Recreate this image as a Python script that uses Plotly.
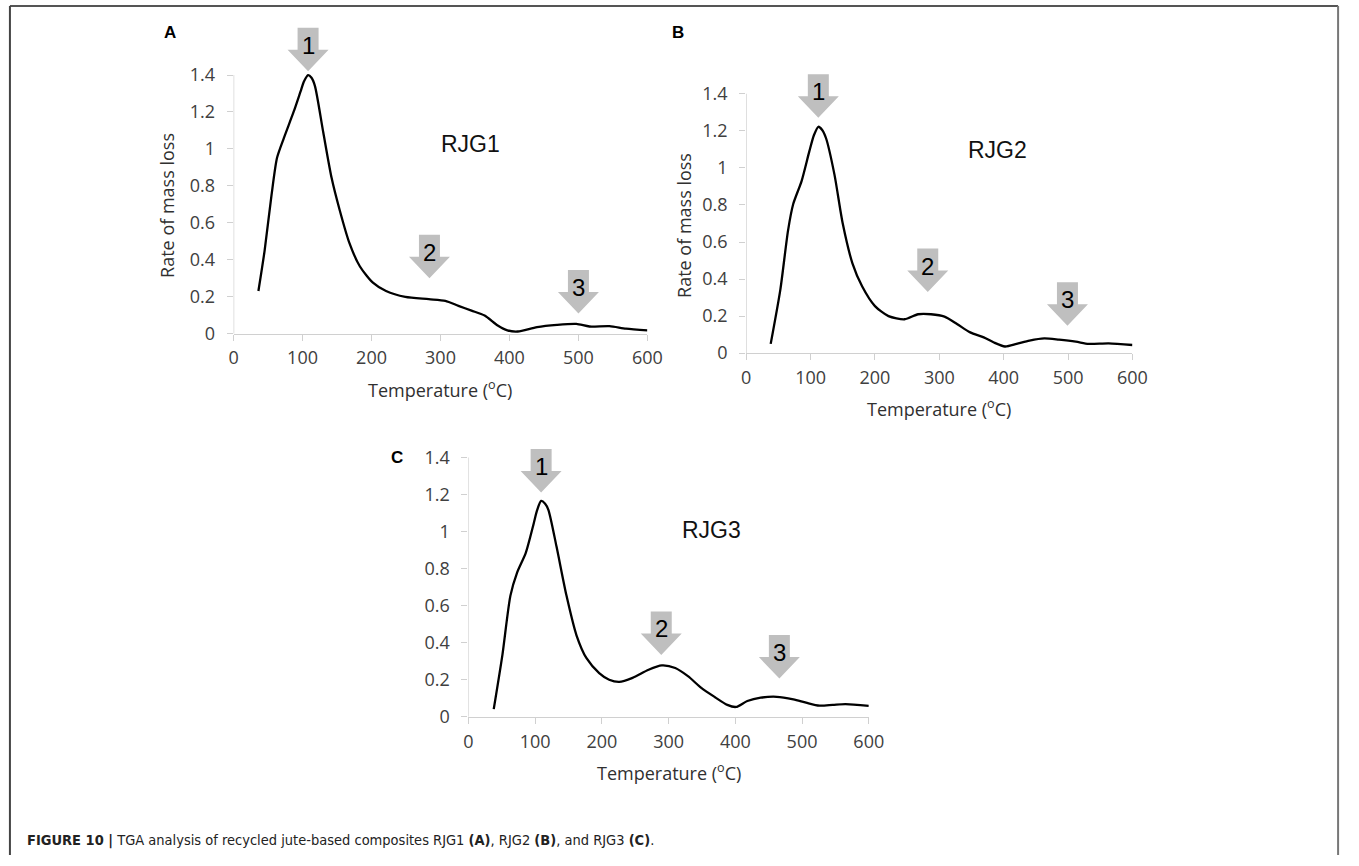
import plotly.graph_objects as go

# ---------------- data ----------------
temp_a = [36, 45, 55, 63, 73, 87, 97, 102, 108, 113, 118, 130, 142, 154, 168, 183, 202, 221, 249,
          283, 307, 326, 345, 364, 383, 397, 412, 440, 469, 497, 516, 545, 569, 600]
rate_a = [0.231, 0.45, 0.75, 0.952, 1.06, 1.20, 1.31, 1.365, 1.40, 1.385, 1.34, 1.09, 0.845, 0.667,
          0.49, 0.365, 0.276, 0.231, 0.199, 0.187, 0.178, 0.151, 0.125, 0.098, 0.044, 0.018, 0.012,
          0.036, 0.048, 0.053, 0.039, 0.041, 0.027, 0.018]

temp_b = [38, 53, 65, 73, 86, 98, 105, 112, 118, 124, 137, 150, 165, 180, 200, 221, 246, 267, 287,
          308, 328, 348, 369, 384, 402, 420, 440, 463, 486, 512, 532, 563, 600]
rate_b = [0.05, 0.343, 0.663, 0.805, 0.929, 1.089, 1.175, 1.222, 1.205, 1.16, 0.965, 0.698, 0.485,
          0.361, 0.254, 0.20, 0.183, 0.21, 0.21, 0.197, 0.156, 0.112, 0.085, 0.059, 0.036, 0.05,
          0.068, 0.08, 0.073, 0.062, 0.05, 0.053, 0.044]

temp_c = [38, 51, 63, 73, 86, 98, 103, 109, 115, 120, 132, 147, 162, 177, 196, 211, 226, 246, 270,
          290, 310, 329, 349, 369, 388, 401, 418, 438, 462, 487, 506, 526, 546, 565, 600]
rate_c = [0.041, 0.334, 0.654, 0.778, 0.885, 1.045, 1.115, 1.165, 1.15, 1.116, 0.92, 0.654, 0.44,
          0.316, 0.236, 0.20, 0.188, 0.21, 0.254, 0.277, 0.263, 0.219, 0.156, 0.107, 0.064, 0.053,
          0.085, 0.103, 0.108, 0.094, 0.076, 0.06, 0.064, 0.068, 0.059]

# arrow tips (temperature, rate) for peaks 1, 2, 3
arrow_labels = ["1", "2", "3"]
arrows_a_x = [108, 284, 500]
arrows_a_y = [1.42, 0.30, 0.11]
arrows_b_x = [112, 282, 499]
arrows_b_y = [1.27, 0.33, 0.148]
arrows_c_x = [109, 289, 466]
arrows_c_y = [1.21, 0.334, 0.206]

sample_names = ["RJG1", "RJG2", "RJG3"]
sample_label_x = [344, 391, 364]
sample_label_y = [1.026, 1.096, 1.007]

panel_letters = ["A", "B", "C"]

x_ticks = [0, 100, 200, 300, 400, 500, 600]
x_ticktext = ["0", "100", "200", "300", "400", "500", "600"]
y_ticks = [0, 0.2, 0.4, 0.6, 0.8, 1.0, 1.2, 1.4]
y_ticktext = ["0", "0.2", "0.4", "0.6", "0.8", "1", "1.2", "1.4"]
x_max, y_max = 600, 1.4

x_title = "Temperature (<sup>o</sup>C)"
y_title = "Rate of mass loss"
caption = ("<b>FIGURE 10 |</b> TGA analysis of recycled jute-based composites RJG1 <b>(A)</b>, "
           "RJG2 <b>(B)</b>, and RJG3 <b>(C)</b>.")

# ---------------- layout geometry ----------------
W, H = 1359, 866


def px(x):
    return x / W


def py(y):
    return 1 - y / H


# plot-area pixel boxes (left, right, top-of-1.4, bottom)
boxes = [(232, 652, 76, 338), (752.3, 1144.3, 95, 357.7), (470.3, 876.7, 463.3, 726)]
Y_HEAD = 1.25  # extra head-room (fraction of y_max) so the arrows are not clipped

TICK_FONT = dict(family="Open Sans, Arial", size=18, color="#404040")
TITLE_FONT = dict(family="Open Sans, Arial", size=18, color="#303030")
AXIS_COL = "#d0d0d0"

fig = go.Figure()

series = [(temp_a, rate_a), (temp_b, rate_b), (temp_c, rate_c)]
arrows = [(arrows_a_x, arrows_a_y), (arrows_b_x, arrows_b_y), (arrows_c_x, arrows_c_y)]

shapes = []
annotations = []

for i, ((tx, ry), (ax_, ay_), box) in enumerate(zip(series, arrows, boxes)):
    sfx = "" if i == 0 else str(i + 1)
    xref, yref = "x" + sfx, "y" + sfx
    fig.add_trace(go.Scatter(x=tx, y=ry, mode="lines", xaxis=xref, yaxis=yref,
                             line=dict(color="black", width=2.3, shape="spline", smoothing=0.7),
                             hoverinfo="skip", showlegend=False))
    l, r, t, b = box
    top_ext = b - (b - t) * Y_HEAD
    common = dict(showgrid=False, zeroline=False, ticks="outside", tickcolor=AXIS_COL, ticklen=6,
                  tickwidth=1.3, tickfont=TICK_FONT, fixedrange=True)
    fig.update_layout(**{
        "xaxis" + sfx: dict(domain=[px(l), px(r)], range=[0, x_max], anchor=yref,
                            showline=True, linecolor=AXIS_COL, linewidth=1.3,
                            tickmode="array", tickvals=x_ticks, ticktext=x_ticktext,
                            ticklabelstandoff=2, **common),
        "yaxis" + sfx: dict(domain=[py(b), py(top_ext)], range=[0, y_max * Y_HEAD], anchor=xref,
                            showline=False,
                            tickmode="array", tickvals=y_ticks, ticktext=y_ticktext,
                            ticklabelstandoff=8, **common),
    })
    # y axis line only from 0 to 1.4
    shapes.append(dict(type="line", xref=xref, yref=yref, x0=0, x1=0, y0=0, y1=y_max,
                       line=dict(color=AXIS_COL, width=1.3), layer="below"))
    # block arrows
    for xv, yv, lab in zip(ax_, ay_, arrow_labels):
        shapes.append(dict(type="path", xref=xref, yref=yref, xsizemode="pixel", ysizemode="pixel",
                           xanchor=xv, yanchor=yv,
                           path="M0,0 L-20.5,21.5 L-10.5,21.5 L-10.5,43.5 L10.5,43.5 L10.5,21.5 L20.5,21.5 Z",
                           fillcolor="#bfbfbf", line=dict(width=0), layer="above"))
        annotations.append(dict(x=xv, y=yv, xref=xref, yref=yref, text=lab, showarrow=False,
                                yshift=26, xanchor="center", yanchor="middle",
                                font=dict(family="Arial, Liberation Sans", size=24, color="black")))
    # sample name
    annotations.append(dict(x=sample_label_x[i], y=sample_label_y[i], xref=xref, yref=yref,
                            text=sample_names[i], showarrow=False, xanchor="center", yanchor="middle",
                            font=dict(family="Arial, Liberation Sans", size=23, color="#111")))
    # x title
    annotations.append(dict(x=px((l + r) / 2), y=py(b + 56), xref="paper", yref="paper",
                            text=x_title, showarrow=False, xanchor="center", yanchor="middle",
                            font=TITLE_FONT))

# y titles (panels A and B only)
annotations.append(dict(x=px(165), y=py(208), xref="paper", yref="paper", text=y_title,
                        textangle=-90, showarrow=False, xanchor="center", yanchor="middle",
                        font=TITLE_FONT))
annotations.append(dict(x=px(689), y=py(228), xref="paper", yref="paper", text=y_title,
                        textangle=-90, showarrow=False, xanchor="center", yanchor="middle",
                        font=TITLE_FONT))

# panel letters
for lab, (lx, ly) in zip(panel_letters, [(167, 33), (683, 33), (398, 463)]):
    annotations.append(dict(x=px(lx), y=py(ly), xref="paper", yref="paper", text="<b>%s</b>" % lab,
                            showarrow=False, xanchor="center", yanchor="middle",
                            font=dict(family="Arial, Liberation Sans", size=17, color="black")))

# caption
annotations.append(dict(x=px(20), y=py(851), xref="paper", yref="paper", text=caption,
                        showarrow=False, xanchor="left", yanchor="middle",
                        font=dict(family="Liberation Sans Narrow, Arial Narrow, DejaVu Sans Condensed, Liberation Sans",
                                  size=14.5, color="#222")))

# figure frame (top, left, right)
shapes += [
    dict(type="line", xref="paper", yref="paper", x0=px(5), x1=px(1353), y0=py(6), y1=py(6),
         line=dict(color="#555", width=2)),
    dict(type="line", xref="paper", yref="paper", x0=px(5), x1=px(5), y0=py(6), y1=0,
         line=dict(color="#444", width=2)),
    dict(type="line", xref="paper", yref="paper", x0=px(1353), x1=px(1353), y0=py(6), y1=0,
         line=dict(color="#777", width=2)),
]

fig.update_layout(width=W, height=H, autosize=False, margin=dict(l=0, r=0, t=0, b=0),
                  paper_bgcolor="white", plot_bgcolor="white", showlegend=False,
                  shapes=shapes, annotations=annotations)

fig.write_html(
    "out.html",
    config={"displayModeBar": False},
    post_script="var g=document.getElementById('{plot_id}');"
                "g.style.position='fixed';g.style.left='0px';g.style.top='0px';"
                "document.body.style.margin='0';document.body.style.overflow='hidden';"
                "document.documentElement.style.overflow='hidden';",
)
